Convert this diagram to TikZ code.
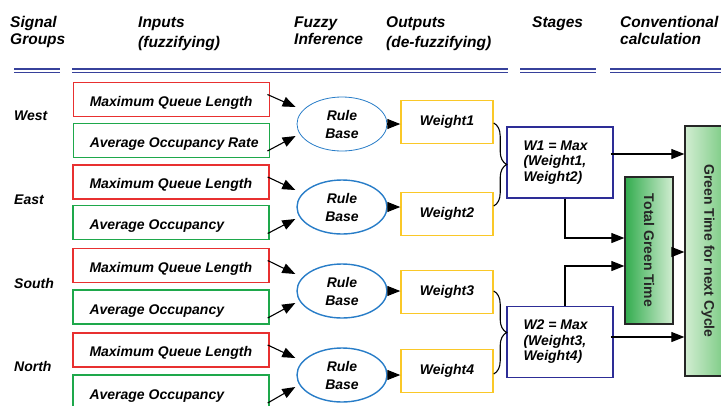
\documentclass[tikz,border=0pt]{standalone}
\usepackage{fontspec}
\setmainfont{Liberation Sans}
\usetikzlibrary{arrows.meta,calc,decorations.pathreplacing,shapes.geometric}
\definecolor{inred}{RGB}{232,48,48}
\definecolor{ingreen}{RGB}{30,168,75}
\definecolor{wyellow}{RGB}{250,200,40}
\definecolor{rbblue}{RGB}{40,125,200}
\definecolor{wnavy}{RGB}{45,45,150}
\definecolor{hdrblue}{RGB}{55,65,155}
\definecolor{gdark}{RGB}{50,172,78}
\definecolor{gmid}{RGB}{110,198,120}
\definecolor{glight}{RGB}{210,237,210}
\begin{document}
\begin{tikzpicture}[x=1pt,y=-1pt,
  txt/.style={font=\fontsize{14}{16}\selectfont\bfseries\itshape, inner sep=0pt},
  hdr/.style={font=\fontsize{15.5}{18}\selectfont\bfseries\itshape, inner sep=0pt, anchor=base west},
  inbox/.style={draw, line width=1.4pt, minimum width=196pt, minimum height=34pt, inner sep=0pt},
  thinbox/.style={line width=0.9pt},
  intext/.style={txt, anchor=base west},
  rulebase/.style={ellipse, draw=rbblue, line width=1.4pt, minimum width=90pt, minimum height=54pt, inner sep=0pt,
     font=\fontsize{14}{18}\selectfont\bfseries\itshape, align=center},
  wbox/.style={draw=wyellow, line width=1.4pt, minimum width=92pt, minimum height=43pt, inner sep=0pt,
     font=\fontsize{14}{16}\selectfont\bfseries\itshape},
  stagebox/.style={draw=wnavy, line width=1.4pt, minimum width=106pt, minimum height=71pt, inner sep=0pt},
  stagetext/.style={font=\fontsize{14}{15.5}\selectfont\bfseries\itshape, inner sep=0pt, align=left, anchor=west},
  greenbox/.style={draw=black!85, line width=1.3pt, inner sep=0pt},
  greentext/.style={font=\fontsize{14}{16}\selectfont\bfseries, text=black!85, inner sep=0pt, rotate=-90},
  arr/.style={line width=1.1pt, -{Triangle[length=13pt,width=10pt]}},
  hline/.style={hdrblue, line width=1.3pt},
  bracestyle/.style={line width=1.1pt, decorate, decoration={brace, amplitude=13pt}}
]
\clip (0,0) rectangle (721,405);
\fill[white] (0,0) rectangle (721,405);

% headers
\node[hdr] (h1a) at (10,27) {Signal};
\node[hdr] (h1b) at (10,44) {Groups};
\node[hdr] (h2a) at (138,27) {Inputs};
\node[hdr] (h2b) at (138,47) {(fuzzifying)};
\node[hdr] (h3a) at (294,27) {Fuzzy};
\node[hdr] (h3b) at (294,44) {Inference};
\node[hdr] (h4a) at (386,27) {Outputs};
\node[hdr] (h4b) at (386,47) {(de-fuzzifying)};
\node[hdr] (h5a) at (532,27) {Stages};
\node[hdr] (h6a) at (620,27) {Conventional};
\node[hdr] (h6b) at (620,44) {calculation};

% double lines
\foreach \a/\b in {14/60, 72/508, 520/596, 610/721}{
  \draw[hline] (\a,69) -- (\b,69);
  \draw[hline] (\a,72.5) -- (\b,72.5);
}

% group labels
\node[intext] (gw) at (14,120) {West};
\node[intext] (ge) at (14,204) {East};
\node[intext] (gs) at (14,288) {South};
\node[intext] (gn) at (14,371) {North};

% input boxes
\node[inbox, thinbox, draw=inred] (i1) at (171,99.5) {};
\node[inbox, thinbox, draw=ingreen] (i2) at (171,140) {};
\node[inbox, draw=inred] (i3) at (171,182) {};
\node[inbox, draw=ingreen] (i4) at (171,222.5) {};
\node[inbox, draw=inred] (i5) at (171,265.5) {};
\node[inbox, draw=ingreen] (i6) at (171,307) {};
\node[inbox, draw=inred] (i7) at (171,350) {};
\node[inbox, draw=ingreen] (i8) at (171,392) {};

\node[intext] (t1) at ($(i1.west)+(17,6.5)$) {Maximum Queue Length};
\node[intext] (t2) at ($(i2.west)+(17,7)$) {Average Occupancy Rate};
\node[intext] (t3) at ($(i3.west)+(17,6.5)$) {Maximum Queue Length};
\node[intext] (t4) at ($(i4.west)+(17,7)$) {Average Occupancy};
\node[intext] (t5) at ($(i5.west)+(17,6.5)$) {Maximum Queue Length};
\node[intext] (t6) at ($(i6.west)+(17,7)$) {Average Occupancy};
\node[intext] (t7) at ($(i7.west)+(17,6.5)$) {Maximum Queue Length};
\node[intext] (t8) at ($(i8.west)+(17,7)$) {Average Occupancy};

% rule bases
\node[rulebase, line width=0.8pt] (r1) at (342,124) {Rule\\Base};
\node[rulebase] (r2) at (342,207) {Rule\\Base};
\node[rulebase] (r3) at (342,291) {Rule\\Base};
\node[rulebase] (r4) at (342,375) {Rule\\Base};

% weights
\node[wbox] (w1) at (447,122) {Weight1};
\node[wbox] (w2) at (447,214) {Weight2};
\node[wbox] (w3) at (447,292) {Weight3};
\node[wbox] (w4) at (447,371) {Weight4};

% stages
\node[stagebox] (s1) at (560,162.5) {};
\node[stagetext] (st1) at ($(s1.west)+(17,0)$) {W1 = Max\\(Weight1,\\Weight2)};
\node[stagebox] (s2) at (560,342) {};
\node[stagetext] (st2) at ($(s2.west)+(17,0)$) {W2 = Max\\(Weight3,\\Weight4)};

% green boxes
\node[greenbox, minimum width=48pt, minimum height=147pt, left color=gdark, right color=glight] (tg) at (649,250.5) {};
\node[greentext] (tgt) at (tg.center) {Total Green Time};
\node[greenbox, minimum width=46pt, minimum height=250pt, left color=glight, right color=gmid] (gt) at (708,251) {};
\node[greentext] (gtt) at (gt.center) {Green Time for next Cycle};

% input -> rule base arrows
\foreach \u/\l/\r in {i1/i2/r1, i3/i4/r2, i5/i6/r3, i7/i8/r4}{
  \draw[arr] ($(\u.east)+(-2,-5)$) -- ($(\r.west)+(-1,-17)$);
  \draw[arr] ($(\l.east)+(-2,11)$) -- ($(\r.west)+(-1,12)$);
}

% rule base -> weight
\foreach \r/\w in {r1/w1, r2/w2, r3/w3, r4/w4}{
  \draw[arr] (\r.east) -- (\r.east -| \w.west);
}

% braces
\draw[bracestyle] ($(w1.east)+(0,1)$) -- ($(w2.east)+(0,-8)$);
\draw[bracestyle] ($(w3.east)+(0,-1)$) -- ($(w4.east)+(0,3)$);

% stages -> conventional
\coordinate (a1) at ($(s1.east)+(-3,-8.5)$);
\coordinate (a2) at ($(s2.east)+(-3,-5)$);
\coordinate (b1) at ($(s1.south)+(5,0)$);
\coordinate (b2) at ($(s2.north)+(5,0)$);
\coordinate (c1) at ($(tg.west)+(0,-12.5)$);
\coordinate (c2) at ($(tg.west)+(0,15.5)$);
\coordinate (d1) at ($(tg.east)+(0,1.5)$);
\draw[arr] (a1) -- (a1 -| gt.west);
\draw[arr] (a2) -- (a2 -| gt.west);
\draw[arr] (b1) |- (c1);
\draw[arr] (b2) |- (c2);
\draw[arr] (d1) -- (d1 -| gt.west);
\end{tikzpicture}
\end{document}
